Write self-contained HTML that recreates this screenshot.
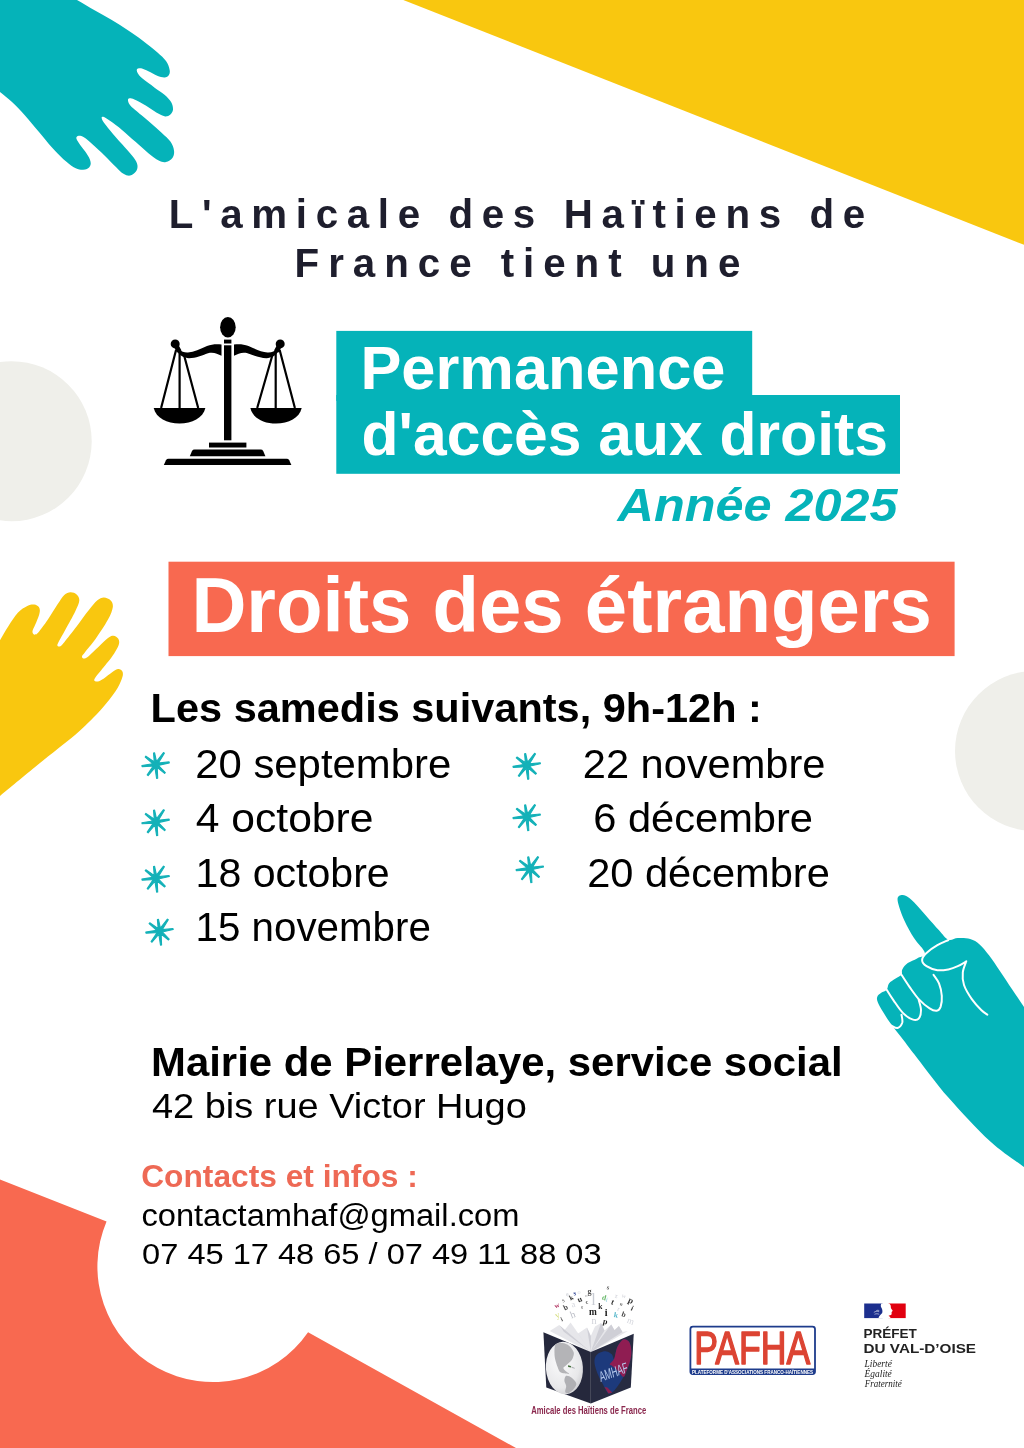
<!DOCTYPE html>
<html lang="fr"><head><meta charset="utf-8"><title>Permanence d'accès aux droits</title>
<style>
html,body{margin:0;padding:0;background:#fff;}
body{width:1024px;height:1448px;overflow:hidden;font-family:"Liberation Sans",sans-serif;}
svg{display:block;}
</style></head><body>
<svg width="1024" height="1448" viewBox="0 0 1024 1448">
<rect width="1024" height="1448" fill="#fff"/>
<circle cx="11.7" cy="441.2" r="80" fill="#efefea"/>
<circle cx="1035" cy="751" r="80" fill="#efefea"/>
<polygon points="403.3,0 1024,0 1024,244.8" fill="#f9c70f"/>
<path d="M0,1179.5 L106.55,1221.43 A115.6,115.6 0 0 0 308.07,1332.27 L516,1448 L0,1448 Z" fill="#f86950"/>
<path fill="#05b3b9" d="M60.0,-10.0 C62.8,-8.3 71.2,-3.4 77.0,0.0 C82.8,3.4 89.2,7.2 95.0,10.5 C100.8,13.8 106.3,16.7 111.8,20.0 C117.3,23.3 122.8,26.8 127.9,30.3 C133.0,33.7 137.7,36.8 142.5,40.5 C147.4,44.2 153.3,48.8 157.2,52.2 C161.1,55.6 163.9,58.1 166.0,61.0 C168.1,63.9 169.2,67.5 169.6,69.8 C170.1,72.1 169.8,73.7 168.9,74.9 C168.1,76.2 166.5,77.3 164.5,77.4 C162.6,77.5 159.9,76.7 157.2,75.7 C154.5,74.6 151.1,72.5 148.4,71.3 C145.7,70.0 143.0,68.7 141.1,68.3 C139.2,68.0 137.5,68.4 137.0,69.2 C136.4,70.1 136.9,71.9 137.9,73.5 C138.8,75.0 139.8,76.3 142.5,78.6 C145.3,80.9 150.6,84.7 154.3,87.4 C157.9,90.1 161.7,92.3 164.5,94.7 C167.3,97.1 169.7,99.6 171.1,102.0 C172.5,104.5 173.1,107.3 173.0,109.4 C172.9,111.4 171.7,113.3 170.4,114.5 C169.1,115.7 167.2,116.5 165.2,116.4 C163.3,116.3 161.5,115.3 158.7,113.8 C155.8,112.2 151.8,109.2 148.4,107.2 C145.0,105.1 141.0,102.8 138.1,101.3 C135.3,99.8 133.2,98.7 131.6,98.4 C129.9,98.1 128.4,98.4 128.0,99.4 C127.7,100.4 128.5,102.7 129.6,104.5 C130.8,106.3 132.1,107.3 135.2,110.1 C138.3,112.8 144.0,117.3 148.4,121.1 C152.8,124.9 157.9,129.4 161.6,132.8 C165.2,136.2 168.3,138.7 170.4,141.6 C172.4,144.5 173.7,147.7 174.0,150.4 C174.4,153.1 173.9,155.7 172.6,157.7 C171.2,159.6 168.3,161.6 166.0,162.1 C163.7,162.6 161.6,162.1 158.7,160.6 C155.7,159.2 152.3,156.5 148.4,153.3 C144.5,150.1 139.6,145.5 135.2,141.6 C130.8,137.7 126.2,133.3 122.0,129.9 C117.9,126.4 113.4,123.2 110.3,121.1 C107.2,118.9 104.7,117.3 103.3,116.8 C101.8,116.3 101.5,117.1 101.7,118.1 C101.8,119.1 102.1,120.1 104.0,122.8 C105.9,125.5 109.8,130.2 113.2,134.3 C116.7,138.4 121.5,143.5 125.0,147.4 C128.4,151.3 131.7,154.8 133.8,157.7 C135.8,160.6 137.0,162.7 137.4,165.0 C137.8,167.3 137.2,169.9 135.9,171.6 C134.7,173.4 132.2,175.2 130.1,175.6 C128.0,175.9 125.8,175.2 123.5,173.8 C121.2,172.4 119.3,170.3 116.2,167.2 C113.0,164.2 108.4,159.3 104.5,155.5 C100.5,151.7 96.2,147.6 92.7,144.5 C89.3,141.5 86.3,138.7 83.9,137.2 C81.6,135.7 79.9,135.6 78.7,135.7 C77.4,135.9 76.3,136.8 76.3,138.1 C76.4,139.3 77.5,141.0 79.0,143.3 C80.5,145.6 83.6,149.2 85.4,151.8 C87.2,154.5 89.0,157.0 89.8,159.2 C90.7,161.4 91.0,163.4 90.5,165.0 C90.0,166.7 88.5,168.3 86.9,169.1 C85.3,169.9 83.2,170.0 81.0,169.7 C78.8,169.4 76.6,169.0 73.7,167.2 C70.8,165.5 67.1,162.4 63.4,159.2 C59.8,155.9 56.1,152.0 52.0,147.5 C47.9,143.0 43.5,137.3 39.0,132.0 C34.5,126.7 29.5,120.5 25.0,115.5 C20.5,110.5 16.2,105.9 12.0,102.0 C7.8,98.1 3.7,95.0 0.0,92.0 C-3.7,89.0 -8.3,85.3 -10.0,84.0 L-10,-10 Z"/>
<path fill="#f9c70f" d="M-4.1,647.0 C-3.4,645.9 -2.1,643.6 0.0,640.2 C2.1,636.7 5.2,631.0 8.2,626.5 C11.2,621.9 14.6,616.2 17.8,612.8 C21.0,609.4 24.6,607.3 27.3,606.0 C30.1,604.6 32.2,604.4 34.2,604.6 C36.1,604.8 38.1,606.0 39.0,607.3 C39.9,608.7 40.1,610.3 39.6,612.8 C39.2,615.3 37.4,619.5 36.2,622.4 C35.1,625.2 33.4,628.1 32.8,629.9 C32.2,631.7 32.5,632.5 32.8,633.3 C33.2,634.1 34.0,634.8 34.9,634.7 C35.8,634.6 36.1,635.1 38.3,632.6 C40.4,630.1 44.7,624.3 47.9,619.6 C51.0,615.0 54.7,608.7 57.4,604.6 C60.2,600.5 62.1,597.1 64.3,595.0 C66.4,593.0 68.4,592.4 70.4,592.3 C72.5,592.2 75.1,593.0 76.6,594.4 C78.0,595.7 79.5,597.7 79.3,600.5 C79.1,603.4 77.5,606.7 75.2,611.4 C72.9,616.2 68.4,624.2 65.6,629.2 C62.9,634.2 60.2,638.8 58.8,641.5 C57.4,644.3 57.2,644.8 57.4,645.6 C57.6,646.4 59.0,646.9 60.2,646.3 C61.3,645.7 61.5,645.5 64.3,642.2 C67.0,638.9 72.5,631.8 76.6,626.5 C80.7,621.1 85.4,614.4 88.9,610.1 C92.3,605.7 94.6,602.6 97.1,600.5 C99.6,598.4 101.6,597.5 103.9,597.5 C106.2,597.5 109.3,598.9 110.7,600.5 C112.2,602.1 113.2,604.2 112.8,607.3 C112.3,610.5 110.9,614.4 108.0,619.6 C105.2,624.9 99.6,633.3 95.7,638.8 C91.8,644.3 87.0,649.5 84.8,652.5 C82.5,655.4 82.1,655.5 82.0,656.6 C81.9,657.6 82.9,658.7 84.1,658.6 C85.2,658.5 86.5,657.8 88.9,655.9 C91.3,653.9 95.2,650.0 98.4,647.0 C101.6,644.0 105.5,640.0 108.0,638.1 C110.5,636.2 111.8,635.7 113.5,635.8 C115.2,635.9 117.4,637.3 118.3,638.8 C119.1,640.3 119.7,642.0 118.7,644.9 C117.6,647.9 115.0,652.3 112.1,656.6 C109.2,660.8 103.9,666.8 101.2,670.2 C98.4,673.7 96.8,675.4 95.7,677.1 C94.6,678.8 94.0,679.8 94.3,680.5 C94.7,681.2 96.2,681.8 97.8,681.4 C99.3,681.1 101.5,680.0 103.9,678.4 C106.3,676.9 109.7,673.8 112.1,672.3 C114.5,670.7 116.6,669.3 118.3,669.1 C120.0,669.0 121.7,670.3 122.4,671.6 C123.0,672.9 123.2,674.3 122.4,677.1 C121.6,679.8 120.2,683.7 117.6,688.0 C115.0,692.3 110.7,698.0 106.6,703.0 C102.5,708.1 98.2,712.8 93.0,718.1 C87.7,723.4 84.2,727.2 75.0,735.0 C65.8,742.8 50.0,754.8 37.5,765.0 C25.0,775.2 7.2,790.0 0.0,796.0 C-7.2,802.0 -5.0,800.2 -6.0,801.0 L-6,640 Z"/>
<path fill="#05b3b9" d="M897.6,898.3 C897.9,896.3 899.3,895.5 900.7,895.2 C902.2,894.8 904.0,894.8 906.2,895.9 C908.4,897.1 910.6,898.8 914.0,902.2 C917.4,905.6 922.3,911.6 926.5,916.2 C930.7,920.9 935.4,926.4 939.0,930.3 C942.6,934.2 945.2,938.4 948.4,939.7 C951.5,941.0 954.1,938.3 957.8,938.1 C961.4,938.0 966.6,937.9 970.2,938.9 C973.9,939.9 976.5,941.6 979.6,944.4 C982.8,947.1 985.6,950.9 989.0,955.3 C992.4,959.7 996.0,965.2 999.9,970.9 C1003.8,976.7 1008.4,983.7 1012.4,989.7 C1016.4,995.7 1020.1,1001.3 1024.0,1006.9 C1027.9,1012.4 1034.0,994.8 1036.0,1023.0 C1038.0,1051.2 1038.0,1152.0 1036.0,1176.0 C1034.0,1200.0 1031.7,1172.9 1024.0,1167.0 C1016.3,1161.2 1002.4,1152.7 989.8,1141.1 C977.2,1129.6 960.4,1111.4 948.4,1097.6 C936.3,1083.8 924.7,1067.7 917.3,1058.2 C909.8,1048.7 908.3,1046.5 903.8,1040.6 C899.3,1034.7 893.8,1027.8 890.3,1023.0 C886.8,1018.2 884.8,1015.0 882.8,1011.6 C880.7,1008.1 878.7,1004.7 877.8,1002.2 C876.8,999.7 876.7,998.3 877.3,996.7 C877.9,995.2 879.6,994.0 881.2,992.8 C882.8,991.6 885.4,991.2 886.7,989.7 C888.0,988.1 887.6,985.3 889.0,983.4 C890.4,981.6 893.2,980.2 895.2,978.8 C897.3,977.3 900.3,976.4 901.5,974.8 C902.7,973.3 901.2,971.3 902.3,969.4 C903.3,967.4 905.3,964.9 907.8,963.1 C910.2,961.3 914.3,960.1 917.1,958.4 C920.0,956.7 925.5,956.4 924.9,953.0 C924.4,949.6 917.4,943.5 914.0,938.1 C910.6,932.8 907.1,926.1 904.6,920.9 C902.2,915.7 900.3,910.7 899.2,906.9 C898.0,903.1 897.3,900.2 897.6,898.3 Z"/>
<g fill="none" stroke="#fff" stroke-width="2" stroke-linecap="round" stroke-linejoin="round"><path d="M948.4,940.0 C946.6,940.9 941.1,943.0 937.4,945.2 C933.8,947.3 929.1,950.5 926.5,953.0 C923.9,955.4 922.1,957.8 922.1,960.0 C922.1,962.2 923.9,964.6 926.5,966.2 C929.1,967.9 933.8,969.6 937.4,970.2 C941.1,970.7 945.0,970.0 948.4,969.4 C951.8,968.7 954.9,967.5 957.8,966.2 C960.6,965.0 964.3,962.6 965.6,961.9 L966.3,961.2 C965.7,963.1 963.1,968.5 962.8,972.5 C962.4,976.5 962.5,980.6 964.0,985.0 C965.5,989.4 968.9,994.9 971.8,999.1 C974.7,1003.2 978.6,1007.4 981.2,1010.0 C983.8,1012.6 986.4,1013.9 987.4,1014.7"/>
<path d="M933.5,974.8 C934.4,976.3 937.6,979.9 939.0,983.4 C940.4,987.0 941.6,992.0 941.8,995.9 C942.1,999.8 941.4,1004.4 940.6,1006.9 C939.7,1009.3 938.5,1010.5 936.7,1010.8 C934.8,1011.0 932.6,1010.4 929.6,1008.4 C926.6,1006.5 922.1,1002.7 918.7,999.1 C915.3,995.4 912.2,990.6 909.3,986.6 C906.4,982.5 902.8,976.8 901.5,974.8"/>
<path d="M918.7,999.8 C919.1,1001.5 921.0,1006.9 921.0,1010.0 C921.0,1013.1 920.1,1017.0 918.7,1018.6 C917.3,1020.2 915.0,1020.3 912.4,1019.4 C909.8,1018.5 906.2,1016.2 903.1,1013.1 C899.9,1010.0 896.4,1004.5 893.7,1000.6 C891.0,996.7 887.8,991.5 886.7,989.7"/>
<path d="M901.5,1014.7 C901.6,1016.0 902.9,1020.3 902.3,1022.5 C901.6,1024.7 899.4,1027.4 897.6,1028.0 C895.8,1028.5 892.4,1026.0 891.3,1025.6"/></g>
<text x="168.8" y="228" font-family="'Liberation Sans', sans-serif" font-size="40.29" font-weight="700" font-style="normal" fill="#1e1e2d" textLength="696.4" lengthAdjust="spacing" >L'amicale des Haïtiens de</text>
<text x="294.6" y="277.3" font-family="'Liberation Sans', sans-serif" font-size="40.29" font-weight="700" font-style="normal" fill="#1e1e2d" textLength="445.7" lengthAdjust="spacing" >France tient une</text>
<g fill="#000" stroke="none">
<ellipse cx="227.9" cy="327.3" rx="7.8" ry="10.2"/>
<rect x="224" y="339.6" width="7.4" height="3.9"/>
<rect x="224" y="345.3" width="7.4" height="95"/>
<rect x="209" y="442.6" width="37.4" height="4.9"/>
<path d="M189.8,456.3 L192,451 Q192.8,449.6 194.5,449.6 L260.7,449.6 Q262.4,449.6 263.2,451 L265.4,456.3 Z"/>
<path d="M163.8,465 L166,460.2 Q166.8,458.8 168.5,458.8 L286.7,458.8 Q288.4,458.8 289.2,460.2 L291.4,465 Z"/>
<circle cx="175.2" cy="343.9" r="4.5"/>
<path d="M173.500,346 L177,352.500 L181.500,350.500 L178.500,345 Z M282,346 L278.500,352.500 L274,350.500 L277,345 Z"/>
<circle cx="280.2" cy="343.9" r="4.5"/>
<path d="M221.5,344.5 C217,343.8 212,344 207,346 C200,349 194,352 188,352.5 C184,352.8 180.5,351 178.5,348.5 L177,351.5 C179.5,355.3 184,358 189,358.2 C196,358.200 202,355.200 208,353.200 C213,351.800 217.5,353.5 221.5,355.8 Z"/>
<path d="M234,344.5 C238.5,343.8 243.5,344 248.5,346 C255.500,349 261.5,352 267.5,352.5 C271.5,352.8 275,351 277,348.500 L278.500,351.5 C276,355.3 271.5,358 266.5,358.2 C259.5,358.200 253.5,355.200 247.500,353.200 C242.5,351.800 238,353.5 234,355.8 Z"/>
<path d="M153.700,408 L205.4,408 C203,418 192,423.6 179.500,423.6 C167,423.6 156,418 153.700,408 Z"/>
<path d="M250.4,408 L301.7,408 C299.5,418 288.500,423.6 276,423.6 C263.5,423.6 252.5,418 250.4,408 Z"/>
</g>
<g stroke="#000" stroke-width="2.2" fill="none">
<path d="M176.100,349.800 L161.100,408 M179.600,351.700 L179.600,408 M183.400,352.700 L198.200,408"/>
<path d="M272.800,353.700 L257.200,408 M275.700,351.700 L275.700,408 M279.600,349.800 L294.900,408"/>
</g>
<rect x="336.3" y="330.9" width="415.9" height="70" fill="#05b3b9"/>
<rect x="336.3" y="395" width="563.7" height="78.8" fill="#05b3b9"/>
<text x="360.4" y="388.5" font-family="'Liberation Sans', sans-serif" font-size="61.2" font-weight="700" font-style="normal" fill="#fff" textLength="365.08" lengthAdjust="spacingAndGlyphs" >Permanence</text>
<text x="361.6" y="455.4" font-family="'Liberation Sans', sans-serif" font-size="61.2" font-weight="700" font-style="normal" fill="#fff" textLength="526.24" lengthAdjust="spacingAndGlyphs" >d'accès aux droits</text>
<text x="617.6" y="521" font-family="'Liberation Sans', sans-serif" font-size="47.12" font-weight="700" font-style="italic" fill="#05b3b9" textLength="279.91" lengthAdjust="spacingAndGlyphs" >Année 2025</text>
<rect x="168.5" y="561.7" width="786.1" height="94.4" fill="#f86950"/>
<text x="191.4" y="632" font-family="'Liberation Sans', sans-serif" font-size="77.01" font-weight="700" font-style="normal" fill="#fff" textLength="740.46" lengthAdjust="spacingAndGlyphs" >Droits des étrangers</text>
<text x="150.6" y="722.2" font-family="'Liberation Sans', sans-serif" font-size="41.21" font-weight="700" font-style="normal" fill="#000" textLength="611.26" lengthAdjust="spacingAndGlyphs" >Les samedis suivants, 9h-12h :</text>
<text x="195.2" y="778.2" font-family="'Liberation Sans', sans-serif" font-size="40.19" font-weight="400" font-style="normal" fill="#000" textLength="256.04" lengthAdjust="spacingAndGlyphs" >20 septembre</text>
<text x="195.8" y="832.4" font-family="'Liberation Sans', sans-serif" font-size="40.19" font-weight="400" font-style="normal" fill="#000" textLength="177.62" lengthAdjust="spacingAndGlyphs" >4 octobre</text>
<text x="195.6" y="886.5" font-family="'Liberation Sans', sans-serif" font-size="40.19" font-weight="400" font-style="normal" fill="#000" textLength="194.09" lengthAdjust="spacingAndGlyphs" >18 octobre</text>
<text x="195.6" y="941" font-family="'Liberation Sans', sans-serif" font-size="40.19" font-weight="400" font-style="normal" fill="#000" textLength="235.26" lengthAdjust="spacingAndGlyphs" >15 novembre</text>
<text x="582.8" y="778.2" font-family="'Liberation Sans', sans-serif" font-size="40.19" font-weight="400" font-style="normal" fill="#000" textLength="242.66" lengthAdjust="spacingAndGlyphs" >22 novembre</text>
<text x="593.2" y="832.4" font-family="'Liberation Sans', sans-serif" font-size="40.19" font-weight="400" font-style="normal" fill="#000" textLength="219.84" lengthAdjust="spacingAndGlyphs" >6 décembre</text>
<text x="587.2" y="887" font-family="'Liberation Sans', sans-serif" font-size="40.19" font-weight="400" font-style="normal" fill="#000" textLength="242.63" lengthAdjust="spacingAndGlyphs" >20 décembre</text>
<path d="M157.1,764.4 L154.6,752.8 L153.5,753.0 L154.5,764.8 Z M156.9,765.4 L164.4,753.1 L163.5,752.5 L154.7,763.8 Z M156.0,765.9 L169.3,762.9 L169.1,761.9 L155.6,763.3 Z M154.9,765.6 L164.6,773.4 L165.3,772.6 L156.7,763.6 Z M154.5,764.7 L156.6,778.5 L157.7,778.3 L157.1,764.5 Z M154.7,763.8 L147.2,774.9 L148.1,775.6 L156.9,765.4 Z M155.7,763.3 L141.9,765.5 L142.1,766.6 L155.9,765.9 Z M156.6,763.5 L145.9,756.2 L145.2,757.1 L155.0,765.7 Z " fill="#14b1b8" stroke="#14b1b8" stroke-width="1.1" stroke-linejoin="round"/><circle cx="155.8" cy="764.6" r="2.6" fill="#14b1b8"/>
<path d="M157.1,821.6 L154.6,810.0 L153.5,810.2 L154.5,822.0 Z M156.9,822.6 L164.4,810.3 L163.5,809.7 L154.7,821.0 Z M156.0,823.1 L169.3,820.1 L169.1,819.1 L155.6,820.5 Z M154.9,822.8 L164.6,830.6 L165.3,829.8 L156.7,820.8 Z M154.5,821.9 L156.6,835.7 L157.7,835.5 L157.1,821.7 Z M154.7,821.0 L147.2,832.1 L148.1,832.8 L156.9,822.6 Z M155.7,820.5 L141.9,822.7 L142.1,823.8 L155.9,823.1 Z M156.6,820.7 L145.9,813.4 L145.2,814.3 L155.0,822.9 Z " fill="#14b1b8" stroke="#14b1b8" stroke-width="1.1" stroke-linejoin="round"/><circle cx="155.8" cy="821.8" r="2.6" fill="#14b1b8"/>
<path d="M157.1,878.0 L154.6,866.4 L153.5,866.6 L154.5,878.4 Z M156.9,879.0 L164.4,866.7 L163.5,866.1 L154.7,877.4 Z M156.0,879.5 L169.3,876.5 L169.1,875.5 L155.6,876.9 Z M154.9,879.2 L164.6,887.0 L165.3,886.2 L156.7,877.2 Z M154.5,878.3 L156.6,892.1 L157.7,891.9 L157.1,878.1 Z M154.7,877.4 L147.2,888.5 L148.1,889.2 L156.9,879.0 Z M155.7,876.9 L141.9,879.1 L142.1,880.2 L155.9,879.5 Z M156.6,877.1 L145.9,869.8 L145.2,870.7 L155.0,879.3 Z " fill="#14b1b8" stroke="#14b1b8" stroke-width="1.1" stroke-linejoin="round"/><circle cx="155.8" cy="878.2" r="2.6" fill="#14b1b8"/>
<path d="M161.0,931.0 L158.5,919.4 L157.4,919.6 L158.4,931.4 Z M160.8,932.0 L168.3,919.7 L167.4,919.1 L158.6,930.4 Z M159.9,932.5 L173.2,929.5 L173.0,928.5 L159.5,929.9 Z M158.8,932.2 L168.5,940.0 L169.2,939.2 L160.6,930.2 Z M158.4,931.3 L160.5,945.1 L161.6,944.9 L161.0,931.1 Z M158.6,930.4 L151.1,941.5 L152.0,942.2 L160.8,932.0 Z M159.6,929.9 L145.8,932.1 L146.0,933.2 L159.8,932.5 Z M160.5,930.1 L149.8,922.8 L149.1,923.7 L158.9,932.3 Z " fill="#14b1b8" stroke="#14b1b8" stroke-width="1.1" stroke-linejoin="round"/><circle cx="159.7" cy="931.2" r="2.6" fill="#14b1b8"/>
<path d="M528.2,765.2 L525.7,753.6 L524.6,753.8 L525.6,765.6 Z M528.0,766.2 L535.5,753.9 L534.6,753.3 L525.8,764.6 Z M527.1,766.7 L540.4,763.7 L540.2,762.7 L526.7,764.1 Z M526.0,766.4 L535.7,774.2 L536.4,773.4 L527.8,764.4 Z M525.6,765.5 L527.7,779.3 L528.8,779.1 L528.2,765.3 Z M525.8,764.6 L518.3,775.7 L519.2,776.4 L528.0,766.2 Z M526.8,764.1 L513.0,766.3 L513.2,767.4 L527.0,766.7 Z M527.7,764.3 L517.0,757.0 L516.3,757.9 L526.1,766.5 Z " fill="#14b1b8" stroke="#14b1b8" stroke-width="1.1" stroke-linejoin="round"/><circle cx="526.9" cy="765.4" r="2.6" fill="#14b1b8"/>
<path d="M528.2,816.5 L525.7,804.9 L524.6,805.1 L525.6,816.9 Z M528.0,817.5 L535.5,805.2 L534.6,804.6 L525.8,815.9 Z M527.1,818.0 L540.4,815.0 L540.2,814.0 L526.7,815.4 Z M526.0,817.7 L535.7,825.5 L536.4,824.7 L527.8,815.7 Z M525.6,816.8 L527.7,830.6 L528.8,830.4 L528.2,816.6 Z M525.8,815.9 L518.3,827.0 L519.2,827.7 L528.0,817.5 Z M526.8,815.4 L513.0,817.6 L513.2,818.7 L527.0,818.0 Z M527.7,815.6 L517.0,808.3 L516.3,809.2 L526.1,817.8 Z " fill="#14b1b8" stroke="#14b1b8" stroke-width="1.1" stroke-linejoin="round"/><circle cx="526.9" cy="816.7" r="2.6" fill="#14b1b8"/>
<path d="M531.3,868.5 L528.8,856.9 L527.7,857.1 L528.7,868.9 Z M531.1,869.5 L538.6,857.2 L537.7,856.6 L528.9,867.9 Z M530.2,870.0 L543.5,867.0 L543.3,866.0 L529.8,867.4 Z M529.1,869.7 L538.8,877.5 L539.5,876.7 L530.9,867.7 Z M528.7,868.8 L530.8,882.6 L531.9,882.4 L531.3,868.6 Z M528.9,867.9 L521.4,879.0 L522.3,879.7 L531.1,869.5 Z M529.9,867.4 L516.1,869.6 L516.3,870.7 L530.1,870.0 Z M530.8,867.6 L520.1,860.3 L519.4,861.2 L529.2,869.8 Z " fill="#14b1b8" stroke="#14b1b8" stroke-width="1.1" stroke-linejoin="round"/><circle cx="530" cy="868.7" r="2.6" fill="#14b1b8"/>
<text x="151.0" y="1076.3" font-family="'Liberation Sans', sans-serif" font-size="40.8" font-weight="700" font-style="normal" fill="#000" textLength="691.63" lengthAdjust="spacingAndGlyphs" >Mairie de Pierrelaye, service social</text>
<text x="152.0" y="1118" font-family="'Liberation Sans', sans-serif" font-size="34.68" font-weight="400" font-style="normal" fill="#000" textLength="374.81" lengthAdjust="spacingAndGlyphs" >42 bis rue Victor Hugo</text>
<text x="141.2" y="1187.1" font-family="'Liberation Sans', sans-serif" font-size="30.8" font-weight="700" font-style="normal" fill="#ee6955" textLength="276.64" lengthAdjust="spacingAndGlyphs" >Contacts et infos :</text>
<text x="141.4" y="1226" font-family="'Liberation Sans', sans-serif" font-size="31.01" font-weight="400" font-style="normal" fill="#000" textLength="378.02" lengthAdjust="spacingAndGlyphs" >contactamhaf@gmail.com</text>
<text x="142.1" y="1264.3" font-family="'Liberation Sans', sans-serif" font-size="29.99" font-weight="400" font-style="normal" fill="#000" textLength="459.51" lengthAdjust="spacingAndGlyphs" >07 45 17 48 65 / 07 49 11 88 03</text>
<g id="amhaf">
<path d="M549.8,1330.9 L559.2,1325 L563.5,1331.5 L570.6,1322.5 L578,1333.5 L587,1327.5 L590.8,1336 L595,1326.500 L601,1323 L604.500,1330.500 L611.2,1324.500 L615,1331 L618.9,1326 L622.5,1332 L627.9,1330.9 L590.8,1352.500 Z" fill="#e6e6ea"/>
<path d="M559.2,1325 L563.5,1331.5 L590.8,1352 Z M570.6,1322.5 L578,1333.5 L590.8,1352 Z M587,1327.5 L590.8,1336 L590.8,1352 Z M601,1323 L604.5,1330.500 L590.8,1352 Z M611.2,1324.500 L615,1331 L590.8,1352 Z M618.9,1326 L622.5,1332 L590.8,1352 Z" fill="#cfcfd6"/>
<polygon points="543.4,1332.3 590.8,1351.9 590.8,1403.6 546.3,1387.5" fill="#25283c"/>
<polygon points="590.8,1351.9 633.75,1333.8 630.8,1387.5 590.8,1403.6" fill="#272b41"/>
<defs><radialGradient id="gl" cx="0.4" cy="0.35" r="0.75"><stop offset="0" stop-color="#fbfbfc"/><stop offset="0.7" stop-color="#e8e8ea"/><stop offset="1" stop-color="#c9c9cd"/></radialGradient></defs>
<ellipse cx="564.4" cy="1368" rx="18.5" ry="26.4" fill="url(#gl)" transform="rotate(-4 564.4 1368)"/>
<path d="M555.6,1344.5 C557.0,1342.8 560.2,1342.8 562.5,1343.1 C564.7,1343.3 567.4,1344.4 569.3,1346.0 C571.2,1347.5 573.1,1350.3 573.7,1352.3 C574.3,1354.4 573.4,1356.5 572.7,1358.2 C572.0,1359.9 570.4,1361.4 569.3,1362.6 C568.2,1363.8 566.9,1364.6 565.9,1365.5 C564.9,1366.4 563.5,1367.1 563.4,1368.0 C563.4,1368.9 564.6,1369.9 565.6,1370.9 C566.6,1371.9 569.5,1373.4 569.3,1373.8 C569.1,1374.2 566.0,1373.7 564.4,1373.3 C562.9,1373.0 561.2,1372.9 560.0,1371.9 C558.9,1370.8 558.3,1368.9 557.6,1367.0 C556.8,1365.0 556.0,1362.4 555.4,1360.2 C554.9,1357.9 554.4,1355.9 554.5,1353.3 C554.5,1350.7 554.3,1346.2 555.6,1344.5 Z" fill="#b4b4b7"/>
<path d="M566.2,1375.8 C567.4,1375.3 570.0,1376.4 571.7,1377.7 C573.4,1379.0 576.0,1381.7 576.3,1383.6 C576.7,1385.5 574.9,1387.4 573.7,1389.0 C572.4,1390.5 570.2,1392.4 568.8,1392.9 C567.4,1393.4 565.6,1393.0 565.2,1391.9 C564.8,1390.8 566.3,1387.9 566.2,1386.0 C566.0,1384.2 564.4,1382.4 564.4,1380.7 C564.4,1379.0 565.0,1376.3 566.2,1375.8 Z" fill="#b0b0b4"/>
<path d="M568,1365.300 l2.800,0.600 l0.600,1.500 l-3.200,-0.500 Z" fill="#3e6b35"/><path d="M571.500,1366.500 l3,1.200 l0.500,1 l-3,-0.800 Z" fill="#b0b0b4"/>
<path d="M608.4,1393.4 C606.6,1392.1 604.3,1386.8 602.5,1383.6 C600.7,1380.3 598.9,1377.1 597.6,1373.8 C596.3,1370.6 595.1,1366.8 594.7,1364.1 C594.3,1361.3 594.4,1359.1 595.2,1357.2 C596.0,1355.4 597.7,1353.8 599.6,1352.8 C601.4,1351.9 604.4,1351.1 606.4,1351.4 C608.4,1351.6 610.5,1353.1 611.8,1354.3 C613.1,1355.5 613.3,1359.8 614.2,1358.7 C615.1,1357.6 615.7,1350.6 617.1,1347.5 C618.6,1344.3 621.1,1340.6 623.0,1339.6 C625.0,1338.7 627.5,1339.8 628.9,1341.6 C630.3,1343.4 631.1,1347.3 631.3,1350.4 C631.6,1353.5 631.1,1356.9 630.3,1360.2 C629.6,1363.4 628.1,1367.0 626.9,1369.9 C625.7,1372.9 624.5,1375.1 623.0,1377.7 C621.5,1380.3 619.8,1383.3 618.1,1385.5 C616.5,1387.8 614.9,1390.1 613.2,1391.4 C611.6,1392.7 610.1,1394.7 608.4,1393.4 Z" fill="#1d3a7c"/>
<path d="M614.2,1358.7 C615.4,1355.9 615.7,1350.6 617.1,1347.5 C618.6,1344.3 621.1,1340.6 623.0,1339.6 C625.0,1338.7 627.5,1339.8 628.9,1341.6 C630.3,1343.4 631.1,1347.3 631.3,1350.4 C631.6,1353.5 631.1,1356.9 630.3,1360.2 C629.6,1363.4 628.1,1367.2 626.9,1369.9 C625.8,1372.7 625.0,1376.6 623.5,1376.8 C622.0,1376.9 620.0,1372.7 618.1,1370.9 C616.3,1369.1 613.6,1367.2 612.3,1366.0 C610.9,1364.9 609.5,1365.3 609.8,1364.1 C610.1,1362.8 613.0,1361.5 614.2,1358.7 Z" fill="#8f1d52"/>
<polygon points="608.4,1393.4 604.5,1387.0 607.4,1387.5 612.3,1392.4" fill="#8a1f50"/>
<text transform="translate(600.800,1382) rotate(-20) skewX(-6)" font-family="'Liberation Sans', sans-serif" font-size="14.5" fill="#b9cdf0" textLength="29.500" lengthAdjust="spacingAndGlyphs">AMHAF</text>
<text transform="translate(555.4,1308.5) rotate(-25)" font-family="'Liberation Serif', serif" font-size="6.9" font-weight="700" fill="#b0305e">w</text>
<text transform="translate(562.8,1302.5) rotate(-20)" font-family="'Liberation Serif', serif" font-size="6.2" font-weight="400" fill="#555">s</text>
<text transform="translate(570.6,1300.5) rotate(-25)" font-family="'Liberation Serif', serif" font-size="6.9" font-weight="700" fill="#333">k</text>
<text transform="translate(573.8,1295.5) rotate(-10)" font-family="'Liberation Serif', serif" font-size="6.9" font-weight="700" fill="#3c4f9a">s</text>
<text transform="translate(587.4,1293.5) rotate(0)" font-family="'Liberation Serif', serif" font-size="8.1" font-weight="700" fill="#555">g</text>
<text transform="translate(606.5,1289) rotate(15)" font-family="'Liberation Serif', serif" font-size="6.2" font-weight="700" fill="#444">s</text>
<text transform="translate(578.5,1302.5) rotate(-20)" font-family="'Liberation Serif', serif" font-size="8.1" font-weight="700" fill="#333">u</text>
<text transform="translate(586,1304) rotate(-15)" font-family="'Liberation Serif', serif" font-size="5.6" font-weight="700" fill="#444">c</text>
<text transform="translate(591.2,1304.5) rotate(0)" font-family="'Liberation Serif', serif" font-size="16.2" font-weight="400" fill="#c9ccd4">l</text>
<text transform="translate(601.5,1299.5) rotate(15)" font-family="'Liberation Serif', serif" font-size="7.5" font-weight="700" fill="#69b86a">d</text>
<text transform="translate(605.5,1301.5) rotate(15)" font-family="'Liberation Serif', serif" font-size="6.2" font-weight="400" fill="#7fc4d8">i</text>
<text transform="translate(610.5,1304) rotate(20)" font-family="'Liberation Serif', serif" font-size="8.1" font-weight="700" fill="#333">t</text>
<text transform="translate(627.5,1302) rotate(25)" font-family="'Liberation Serif', serif" font-size="8.8" font-weight="700" fill="#333">p</text>
<text transform="translate(630.3,1310) rotate(25)" font-family="'Liberation Serif', serif" font-size="7.5" font-weight="700" fill="#333">i</text>
<text transform="translate(564.8,1310.5) rotate(-25)" font-family="'Liberation Serif', serif" font-size="7.5" font-weight="700" fill="#444">b</text>
<text transform="translate(572,1307.5) rotate(-15)" font-family="'Liberation Serif', serif" font-size="8.8" font-weight="400" fill="#d5d7de">a</text>
<text transform="translate(598.2,1308.5) rotate(0)" font-family="'Liberation Serif', serif" font-size="7.5" font-weight="700" fill="#222">k</text>
<text transform="translate(589,1315) rotate(0)" font-family="'Liberation Serif', serif" font-size="9.4" font-weight="700" fill="#222">m</text>
<text transform="translate(604.8,1315.5) rotate(0)" font-family="'Liberation Serif', serif" font-size="10.0" font-weight="700" fill="#111">i</text>
<text transform="translate(571.5,1318.5) rotate(-20)" font-family="'Liberation Serif', serif" font-size="10.0" font-weight="400" fill="#bbbdc6">h</text>
<text transform="translate(591.5,1324) rotate(0)" font-family="'Liberation Serif', serif" font-size="10.0" font-weight="400" fill="#cfd1d8">n</text>
<text transform="translate(602.5,1323.5) rotate(15)" font-family="'Liberation Serif', serif" font-size="8.1" font-weight="700" fill="#222">p</text>
<text transform="translate(621,1316) rotate(20)" font-family="'Liberation Serif', serif" font-size="7.5" font-weight="700" fill="#444">b</text>
<text transform="translate(626.5,1322.5) rotate(20)" font-family="'Liberation Serif', serif" font-size="8.8" font-weight="400" fill="#d3d5dc">m</text>
<text transform="translate(613.5,1317) rotate(10)" font-family="'Liberation Serif', serif" font-size="7.5" font-weight="700" fill="#53b5c9">k</text>
<text transform="translate(556.5,1318.5) rotate(-25)" font-family="'Liberation Serif', serif" font-size="8.8" font-weight="400" fill="#d4dc7a">y</text>
<text transform="translate(561.8,1321.5) rotate(-25)" font-family="'Liberation Serif', serif" font-size="6.2" font-weight="700" fill="#444">i</text>
<text transform="translate(585,1296.5) rotate(0)" font-family="'Liberation Serif', serif" font-size="5.0" font-weight="400" fill="#aaa">n</text>
<text transform="translate(614.5,1297.5) rotate(15)" font-family="'Liberation Serif', serif" font-size="6.2" font-weight="400" fill="#c8cad2">z</text>
<text transform="translate(619.5,1305) rotate(20)" font-family="'Liberation Serif', serif" font-size="5.0" font-weight="700" fill="#666">n</text>
<text transform="translate(621.5,1297) rotate(20)" font-family="'Liberation Serif', serif" font-size="5.6" font-weight="400" fill="#c8cad2">w</text>
<text transform="translate(581.5,1309) rotate(-15)" font-family="'Liberation Serif', serif" font-size="5.0" font-weight="700" fill="#555">r</text>
<text transform="translate(566.5,1296.5) rotate(-15)" font-family="'Liberation Serif', serif" font-size="6.2" font-weight="400" fill="#c5c8d0">e</text>
<text transform="translate(577.5,1293.5) rotate(0)" font-family="'Liberation Serif', serif" font-size="6.2" font-weight="400" fill="#dfe1e6">o</text>
<text transform="translate(617,1310.5) rotate(15)" font-family="'Liberation Serif', serif" font-size="6.2" font-weight="400" fill="#c8cad2">r</text>
<text x="531.2" y="1414.1" font-family="'Liberation Sans', sans-serif" font-size="11.5" font-weight="700" font-style="normal" fill="#8a274d" textLength="115.0" lengthAdjust="spacingAndGlyphs" >Amicale des Haïtiens de France</text>
</g>
<g id="pafha">
<rect x="690.4" y="1326.600" width="124.600" height="47.500" rx="2.500" fill="#fff" stroke="#1e3c8c" stroke-width="1.8"/>
<path d="M690.400,1368.500 H815 V1372 Q815,1374.100 812.500,1374.100 H692.900 Q690.400,1374.100 690.400,1372 Z" fill="#1e3c8c"/>
<text x="694.2" y="1364.1" font-family="'Liberation Sans', sans-serif" font-size="45.5" font-weight="400" font-style="normal" fill="#dc4433" textLength="116.08" lengthAdjust="spacingAndGlyphs" stroke="#dc4433" stroke-width="1.5" stroke-linejoin="round">PAFHA</text>
<text x="691.9" y="1373.5" font-family="'Liberation Sans', sans-serif" font-size="4.6" font-weight="700" font-style="normal" fill="#fff" textLength="121.20000000000005" lengthAdjust="spacingAndGlyphs" >PLATEFORME D'ASSOCIATIONS FRANCO-HAÏTIENNES</text>
</g>
<g id="prefet">
<rect x="864.2" y="1303.500" width="18.500" height="14.600" fill="#1c2f8e"/>
<rect x="882.700" y="1303.500" width="7" height="14.600" fill="#fff"/>
<rect x="888.500" y="1303.500" width="17.200" height="14.600" fill="#e1000f"/>
<path d="M881.300,1303.500 C880.300,1305.500 880.800,1307 881.800,1308.500 C882.800,1310 883.300,1311.500 882.300,1313 C881,1314.500 879,1315.500 878.500,1318.100 L890.500,1318.100 C890.500,1316.500 889,1316.300 888.300,1315.700 C889.500,1315.300 890.800,1315.300 891.500,1314.500 C892,1313.500 891.300,1312.700 891.700,1312 C892.300,1311.300 893,1310.700 892.300,1310 C891.300,1309 890.700,1308 890.800,1306.500 C890.900,1305 890,1304 889,1303.500 Z" fill="#fff"/>
<path d="M873.800,1312.500 c1.300,-1.300 3.700,-1.500 5.300,-0.700 M874.500,1314.300 c1.500,-0.700 3.300,-0.700 4.700,0 M876.300,1310.700 c1,-0.600 2.200,-0.500 3,0.100" stroke="#fff" stroke-width="0.55" fill="none"/>
<text x="863.4" y="1337.6" font-family="'Liberation Sans', sans-serif" font-size="13.7" font-weight="700" font-style="normal" fill="#222" textLength="53.4" lengthAdjust="spacingAndGlyphs" >PRÉFET</text>
<text x="863.6" y="1353.3" font-family="'Liberation Sans', sans-serif" font-size="13.7" font-weight="700" font-style="normal" fill="#222" textLength="112.42" lengthAdjust="spacingAndGlyphs" >DU VAL-D’OISE</text>
<text x="864.6" y="1366.5" font-family="'Liberation Serif', serif" font-size="9.6" font-weight="400" font-style="italic" fill="#222" textLength="27.22" lengthAdjust="spacingAndGlyphs" >Liberté</text>
<text x="864.6" y="1376.7" font-family="'Liberation Serif', serif" font-size="9.6" font-weight="400" font-style="italic" fill="#222" textLength="27.22" lengthAdjust="spacingAndGlyphs" >Égalité</text>
<text x="864.8" y="1387" font-family="'Liberation Serif', serif" font-size="9.6" font-weight="400" font-style="italic" fill="#222" textLength="37.0" lengthAdjust="spacingAndGlyphs" >Fraternité</text>
</g>
</svg>
</body></html>
